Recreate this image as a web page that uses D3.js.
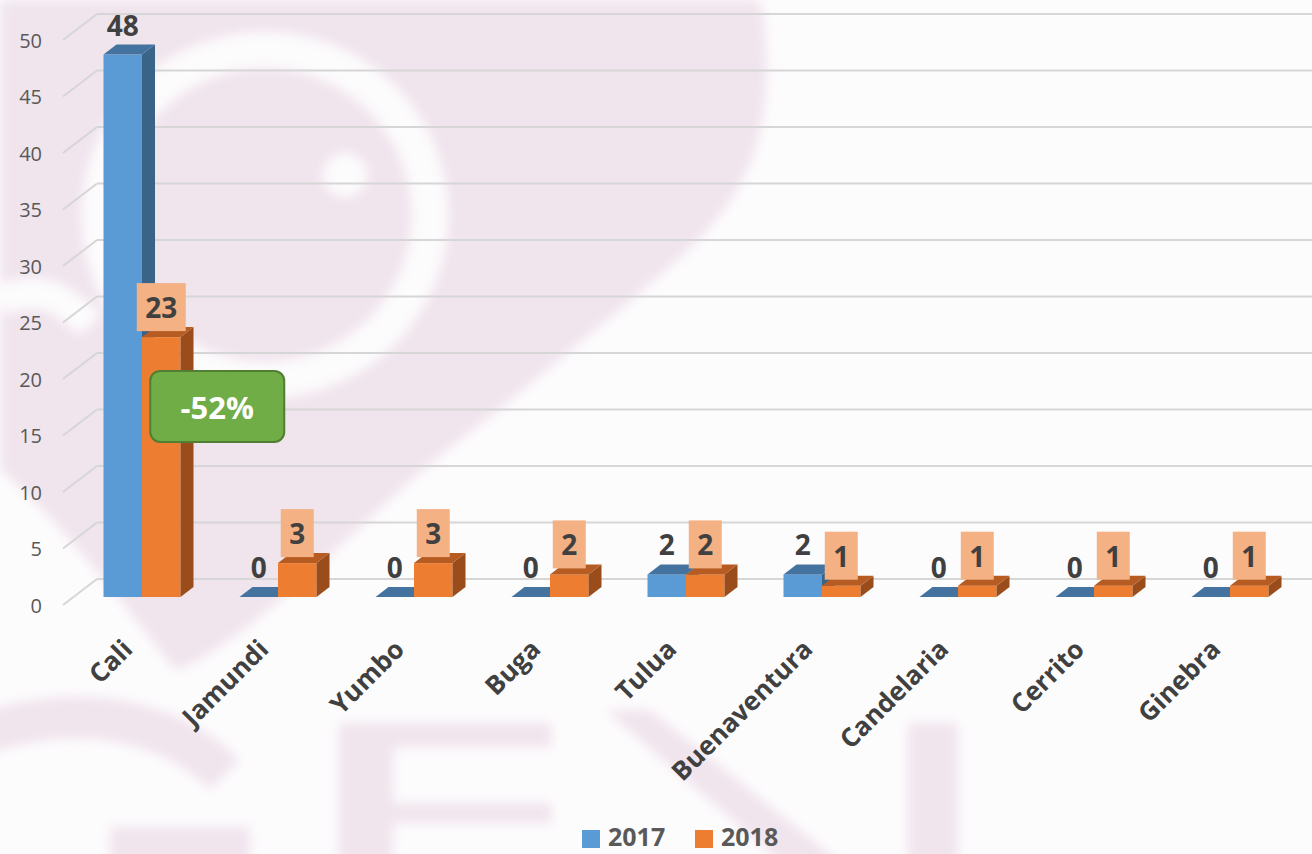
<!DOCTYPE html>
<html>
<head>
<meta charset="utf-8">
<script src="https://cdn.jsdelivr.net/npm/d3@7/dist/d3.min.js"></script>
<style>
html,body{margin:0;padding:0;background:#fdfcfd;}
svg{display:block;}
text{font-family:"Open Sans","Noto Sans",sans-serif;}
</style>
</head>
<body>
<svg id="chart" width="1312" height="854"></svg>
<script>
// ---- data ----
const categories = ["Cali","Jamundi","Yumbo","Buga","Tulua","Buenaventura","Candelaria","Cerrito","Ginebra"];
const seriesNames = ["2017","2018"];
const values2017 = [48,0,0,0,2,2,0,0,0];
const values2018 = [23,3,3,2,2,1,1,1,1];
const yTicks = [0,5,10,15,20,25,30,35,40,45,50];
const calloutText = "-52%";

const W = 1312, H = 854;
const svg = d3.select("#chart");

// ---- watermark background ----
const bg = svg.append("g");
bg.append("rect").attr("width", W).attr("height", H).attr("fill", "#fdfcfd");
const defs = svg.append("defs");
defs.append("filter").attr("id","blur").append("feGaussianBlur").attr("stdDeviation", 6);
const wm = bg.append("g").attr("filter","url(#blur)");
const pink = "#f0e4ed";
wm.append("path").attr("fill", pink)
  .attr("d", "M0,0 L760,0 C772,60 768,130 745,175 C720,225 690,250 620,310 C575,345 520,395 460,440 C400,485 330,560 250,625 C215,650 195,665 175,670 C120,600 60,520 0,470 Z");
wm.append("circle").attr("cx", 265).attr("cy", 215).attr("r", 165)
  .attr("fill","none").attr("stroke","#fdfcfd").attr("stroke-width", 36);
wm.append("circle").attr("cx", 345).attr("cy", 175).attr("r", 22).attr("fill","#fdfcfd");
wm.append("path").attr("fill","none").attr("stroke","#fdfcfd").attr("stroke-width",30)
  .attr("d","M0,300 C40,285 60,295 90,325");
// bottom letters
wm.append("path").attr("fill","none").attr("stroke", pink).attr("stroke-width", 42)
  .attr("d","M-20,735 C80,700 170,720 225,775");
wm.append("rect").attr("x",110).attr("y",827).attr("width",140).attr("height",40).attr("fill",pink);
wm.append("rect").attr("x",339).attr("y",723).attr("width",54).attr("height",140).attr("fill",pink);
wm.append("rect").attr("x",339).attr("y",723).attr("width",213).attr("height",24).attr("fill",pink);
wm.append("rect").attr("x",393).attr("y",803).attr("width",159).attr("height",20).attr("fill",pink);
wm.append("path").attr("fill",pink).attr("d","M605,710 L650,710 L850,870 L790,870 Z");
wm.append("rect").attr("x",908).attr("y",723).attr("width",50).attr("height",140).attr("fill",pink);

// ---- scales ----
const y = d3.scaleLinear().domain([0,50]).range([597, 32]);
const x0 = d3.scaleBand().domain(categories).range([74, 1298]).padding(0);
const groupW = 77;
const x1 = d3.scaleBand().domain(seriesNames).range([0, groupW]).padding(0);
const gx = c => x0(c) + (x0.bandwidth() - groupW) / 2;

// wall offsets
const wallDy = -18, frontDy = 8, frontDx = -34;
const depthX = 13, depthY = -10;

// ---- gridlines ----
const grid = svg.append("g");
yTicks.forEach(t => {
  const yb = y(t) + wallDy;
  grid.append("line").attr("x1", 97).attr("x2", W).attr("y1", yb).attr("y2", yb)
    .attr("stroke", "#d6d6d6").attr("stroke-width", 2);
  grid.append("line").attr("x1", 97 + frontDx).attr("y1", y(t) + frontDy).attr("x2", 97).attr("y2", yb)
    .attr("stroke", "#d6d6d6").attr("stroke-width", 2);
});

// ---- y axis labels ----
svg.append("g").selectAll("text").data(yTicks).join("text")
  .attr("x", 42).attr("y", d => y(d) + frontDy)
  .attr("text-anchor", "end").attr("dominant-baseline", "central")
  .attr("font-size", 20).attr("fill", "#595959").text(d => d);

// ---- bars ----
const colors = {
  "2017": {front:"#5b9bd5", top:"#4573a0", side:"#3a6388"},
  "2018": {front:"#ed7d31", top:"#b65c22", side:"#9a4c1b"}
};
const seriesData = {"2017": values2017, "2018": values2018};
const bars = svg.append("g");
categories.forEach((c, i) => {
  seriesNames.forEach(s => {
    const v = seriesData[s][i];
    const xl = gx(c) + x1(s), xr = xl + x1.bandwidth();
    const yt = y(v), yb = y(0);
    const col = colors[s];
    const g = bars.append("g");
    if (v > 0) {
      g.append("rect").attr("x", xl).attr("y", yt).attr("width", xr - xl).attr("height", yb - yt).attr("fill", col.front);
      g.append("path").attr("fill", col.side)
        .attr("d", `M${xr},${yt} L${xr+depthX},${yt+depthY} L${xr+depthX},${yb+depthY} L${xr},${yb} Z`);
    }
    g.append("path").attr("fill", col.top)
      .attr("d", `M${xl},${yt} L${xl+depthX},${yt+depthY} L${xr+depthX},${yt+depthY} L${xr},${yt} Z`);
  });
});

// ---- data labels ----
const labels = svg.append("g");
categories.forEach((c, i) => {
  const v17 = values2017[i];
  const cx17 = gx(c) + x1("2017") + x1.bandwidth()/2;
  labels.append("text").attr("x", cx17).attr("y", y(v17) - 30)
    .attr("text-anchor","middle").attr("dominant-baseline","central")
    .attr("font-size", 28).attr("font-weight","bold").attr("fill","#404040").text(v17);
  const v18 = values2018[i];
  const cx18 = gx(c) + x1("2018") + x1.bandwidth()/2;
  const txt = String(v18);
  const bw = txt.length > 1 ? 49 : 33;
  const cy = y(v18) - 30;
  labels.append("rect").attr("x", cx18 - bw/2).attr("y", cy - 24).attr("width", bw).attr("height", 48)
    .attr("fill", "#f4b183");
  labels.append("text").attr("x", cx18).attr("y", cy)
    .attr("text-anchor","middle").attr("dominant-baseline","central")
    .attr("font-size", 28).attr("font-weight","bold").attr("fill","#404040").text(txt);
});

// ---- callout ----
const callout = svg.append("g");
const cxC = gx("Cali") + x1("2018") + x1.bandwidth()/2 + 56, cyC = y(17) + 2;
callout.append("rect").attr("x", cxC - 67).attr("y", cyC - 36).attr("width", 134).attr("height", 71)
  .attr("rx", 10).attr("fill", "#70ad47").attr("stroke", "#507e32").attr("stroke-width", 2);
callout.append("text").attr("x", cxC).attr("y", cyC)
  .attr("text-anchor","middle").attr("dominant-baseline","central")
  .attr("font-size", 31).attr("font-weight","bold").attr("fill","#ffffff").text(calloutText);

// ---- x axis labels ----
svg.append("g").selectAll("text").data(categories).join("text")
  .attr("transform", d => `translate(${x0(d) + x0.bandwidth()/2 - 8},651) rotate(-45)`)
  .attr("text-anchor","end")
  .attr("font-size", 26).attr("font-weight","bold").attr("fill","#404040").text(d => d);

// ---- legend ----
const legend = svg.append("g");
const legendItems = [{name:"2017", x:582}, {name:"2018", x:695}];
legendItems.forEach(it => {
  legend.append("rect").attr("x", it.x).attr("y", 830).attr("width", 18).attr("height", 18).attr("fill", colors[it.name].front);
  legend.append("text").attr("x", it.x + 26).attr("y", 846)
    .attr("font-size", 25).attr("font-weight","bold").attr("fill","#595959").text(it.name);
});
</script>
</body>
</html>
